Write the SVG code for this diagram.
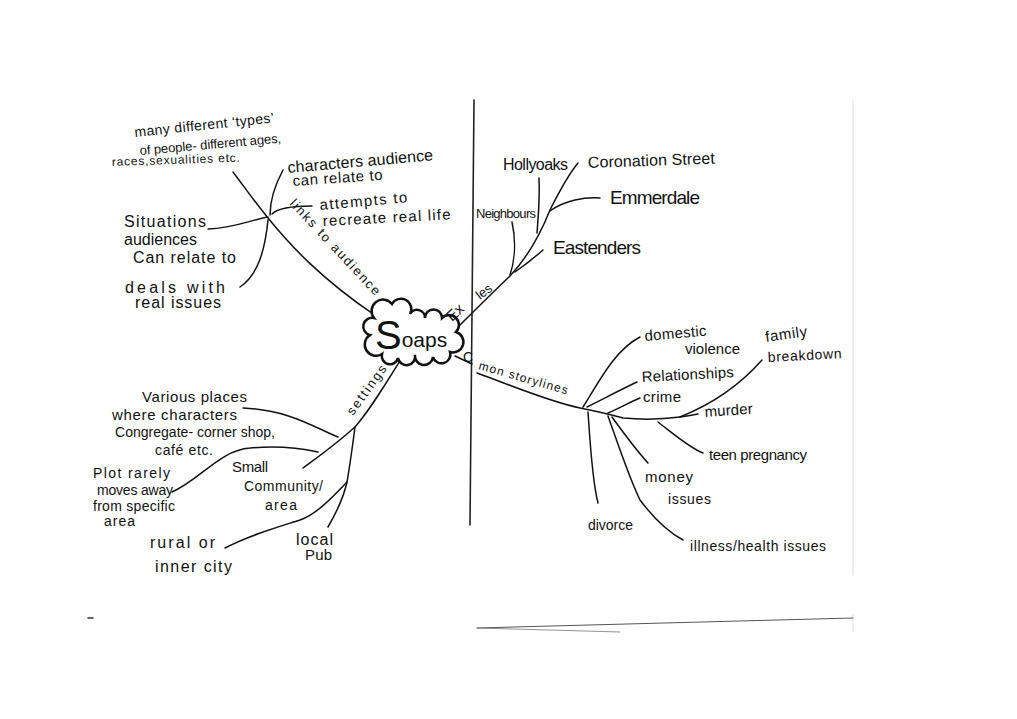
<svg xmlns="http://www.w3.org/2000/svg" width="1017" height="719" viewBox="0 0 1017 719">
<style>
text{font-family:"Liberation Sans","DejaVu Sans",sans-serif;fill:#111;font-size:15px}
.s13{font-size:13px}.s14{font-size:14px}.s16{font-size:16px}.s19{font-size:19px}.s12{font-size:12px}
.c{fill:none;stroke:#111;stroke-width:1.5;stroke-linecap:round}
.page{fill:none;stroke-linecap:round}
</style>
<rect width="1017" height="719" fill="#fff"/>
<g id="page">
<path class="page" d="M474,100 L470,525" stroke="#222" stroke-width="1.6"/>
<path class="page" d="M853,100 L853,575" stroke="#ddd" stroke-width="1"/>
<path class="page" d="M853,615 L853,632" stroke="#ddd" stroke-width="1"/>
<path class="page" d="M477,628 L853,618" stroke="#555" stroke-width="1"/>
<path class="page" d="M477,628 L620,632" stroke="#777" stroke-width="0.8"/>
<path class="page" d="M88,618 L93,618" stroke="#333" stroke-width="1.5"/>
</g>
<g id="connectors">
<path class="c" d="M233,172 C248,192 258,206 268,218 C290,245 320,278 376,316"/>
<path class="c" d="M283,170 C275,185 270,200 270,215"/>
<path class="c" d="M312,206 C295,206 278,208 272,214"/>
<path class="c" d="M208,229 C235,228 250,220 268,217"/>
<path class="c" d="M240,287 C258,275 265,250 268,220"/>
<path class="c" d="M403,356 C385,385 370,410 355,427 C335,445 318,457 303,468"/>
<path class="c" d="M355,427 C352,450 350,465 347,482 C343,500 335,515 328,527"/>
<path class="c" d="M347,482 C330,500 315,515 300,520 C275,528 250,535 225,548"/>
<path class="c" d="M243,408 C290,410 315,428 338,437"/>
<path class="c" d="M172,492 C200,480 220,450 250,448 C280,445 300,448 318,452"/>
<path class="c" d="M452,333 C465,320 490,295 510,276 C525,260 540,235 550,210 C560,190 568,175 578,163"/>
<path class="c" d="M539,178 C540,200 538,220 537,233"/>
<path class="c" d="M512,222 C516,240 515,260 510,275"/>
<path class="c" d="M550,211 C565,200 585,197 600,198"/>
<path class="c" d="M515,272 C525,265 535,257 543,250"/>
<path class="c" d="M455,356 L472,364"/>
<path class="c" d="M477,373 C510,385 550,402 580,408 C595,411 605,413 623,418 C645,420 665,419 680,417 C688,416 693,415 698,414"/>
<path class="c" d="M583,407 C600,380 615,350 640,337"/>
<path class="c" d="M587,407 C605,398 620,390 637,382"/>
<path class="c" d="M608,413 C620,408 630,402 640,398"/>
<path class="c" d="M680,417 C710,405 740,385 762,360"/>
<path class="c" d="M658,422 C675,435 690,448 703,453"/>
<path class="c" d="M588,412 C590,440 592,480 598,503"/>
<path class="c" d="M612,417 C625,435 638,452 648,463"/>
<path class="c" d="M608,416 C620,450 630,480 640,500 C655,520 668,532 683,540"/>
</g>
<g id="soaps">
<path d="M370,335 A8,8 0 0,1 374,318 A10,10 0 0,1 392,304 A9,9 0 0,1 410,314 A8,8 0 0,1 425,318 A8,8 0 0,1 442,318 A8,8 0 0,1 456,332 A8,8 0 0,1 450,352 A8,8 0 0,1 433,357 A8,8 0 0,1 415,355 A8,8 0 0,1 398,358 A8,8 0 0,1 382,354 A8,8 0 0,1 370,335 Z" fill="#fff" stroke="#111" stroke-width="2.5"/>
<text x="375" y="349" style="font-size:40px">S<tspan style="font-size:21px" dy="-2">oaps</tspan></text>
</g>
<g id="links-to-audience">
<text class="s13" transform="translate(289,204) rotate(47)" textLength="126" lengthAdjust="spacing">links to audience</text>
</g>
<g id="many-types">
<text class="s14" transform="translate(135,137) rotate(-6)" textLength="140" lengthAdjust="spacing">many different ‘types’</text>
<text class="s13" transform="translate(140,155) rotate(-5)" textLength="142" lengthAdjust="spacing">of people- different ages,</text>
<text class="s12" transform="translate(112,166) rotate(-2)" textLength="128" lengthAdjust="spacing">races,sexualities etc.</text>
</g>
<g id="characters">
<text class="s16" transform="translate(288,173) rotate(-5)" textLength="146" lengthAdjust="spacing">characters audience</text>
<text transform="translate(293,186) rotate(-4)" textLength="90" lengthAdjust="spacing">can relate to</text>
</g>
<g id="attempts">
<text transform="translate(320,210) rotate(-5)" textLength="88" lengthAdjust="spacing">attempts to</text>
<text transform="translate(323,226) rotate(-3)" textLength="128" lengthAdjust="spacing">recreate real life</text>
</g>
<g id="situations">
<text class="s16" x="124" y="227" textLength="82" lengthAdjust="spacing">Situations</text>
<text class="s16" x="124" y="245" textLength="73" lengthAdjust="spacing">audiences</text>
<text class="s16" x="133" y="263" textLength="103" lengthAdjust="spacing">Can relate to</text>
</g>
<g id="deals">
<text class="s16" x="125" y="293" textLength="100" lengthAdjust="spacing">deals with</text>
<text class="s16" x="135" y="308" textLength="86" lengthAdjust="spacing">real issues</text>
</g>
<g id="settings">
<text class="s13" transform="translate(353,416) rotate(-54)" textLength="58" lengthAdjust="spacing">settings</text>
</g>
<g id="various-places">
<text x="142" y="402" textLength="105" lengthAdjust="spacing">Various places</text>
<text x="112" y="420" textLength="125" lengthAdjust="spacing">where characters</text>
<text class="s14" x="115" y="437" textLength="160" lengthAdjust="spacing">Congregate- corner shop,</text>
<text class="s14" x="155" y="455" textLength="58" lengthAdjust="spacing">café etc.</text>
</g>
<g id="plot">
<text class="s14" x="93" y="478" textLength="77" lengthAdjust="spacing">Plot rarely</text>
<text class="s14" x="97" y="495" textLength="76" lengthAdjust="spacing">moves away</text>
<text class="s14" x="93" y="511" textLength="82" lengthAdjust="spacing">from specific</text>
<text class="s14" x="104" y="526" textLength="31" lengthAdjust="spacing">area</text>
</g>
<g id="small-community">
<text x="232" y="472" textLength="36" lengthAdjust="spacing">Small</text>
<text class="s14" x="244" y="491" textLength="79" lengthAdjust="spacing">Community/</text>
<text class="s14" x="265" y="510" textLength="32" lengthAdjust="spacing">area</text>
</g>
<g id="rural">
<text class="s16" x="150" y="548" textLength="65" lengthAdjust="spacing">rural or</text>
<text class="s16" x="155" y="572" textLength="77" lengthAdjust="spacing">inner city</text>
</g>
<g id="local-pub">
<text class="s16" x="296" y="545" textLength="37" lengthAdjust="spacing">local</text>
<text x="305" y="560" textLength="27" lengthAdjust="spacing">Pub</text>
</g>
<g id="examples">
<text transform="translate(452,322) rotate(-42)">Ex</text>
<text class="s13" transform="translate(480,300) rotate(-37)">les</text>
</g>
<g id="hollyoaks"><text class="s16" x="503" y="170" textLength="65" lengthAdjust="spacing">Hollyoaks</text></g>
<g id="coronation-street"><text class="s16" transform="translate(588,168) rotate(-2)" textLength="127" lengthAdjust="spacing">Coronation Street</text></g>
<g id="emmerdale"><text class="s19" x="610" y="204" textLength="90" lengthAdjust="spacing">Emmerdale</text></g>
<g id="neighbours"><text class="s13" x="476" y="218" textLength="60" lengthAdjust="spacing">Neighbours</text></g>
<g id="eastenders"><text class="s19" x="553" y="254" textLength="88" lengthAdjust="spacing">Eastenders</text></g>
<g id="common-storylines">
<text class="s14" x="463" y="362">C</text>
<text class="s12" transform="translate(478,369) rotate(16)" textLength="92" lengthAdjust="spacing">mon storylines</text>
</g>
<g id="domestic-violence">
<text transform="translate(645,341) rotate(-5)" textLength="62" lengthAdjust="spacing">domestic</text>
<text x="685" y="354" textLength="55" lengthAdjust="spacing">violence</text>
</g>
<g id="family-breakdown">
<text transform="translate(766,342) rotate(-8)" textLength="42" lengthAdjust="spacing">family</text>
<text class="s14" transform="translate(768,362) rotate(-3)" textLength="74" lengthAdjust="spacing">breakdown</text>
</g>
<g id="relationships"><text transform="translate(642,382) rotate(-3)" textLength="92" lengthAdjust="spacing">Relationships</text></g>
<g id="crime"><text x="643" y="402" textLength="38" lengthAdjust="spacing">crime</text></g>
<g id="murder"><text transform="translate(705,417) rotate(-4)" textLength="48" lengthAdjust="spacing">murder</text></g>
<g id="teen-pregnancy"><text x="709" y="460" textLength="98" lengthAdjust="spacing">teen pregnancy</text></g>
<g id="money-issues">
<text x="645" y="482" textLength="48" lengthAdjust="spacing">money</text>
<text class="s14" x="668" y="504" textLength="43" lengthAdjust="spacing">issues</text>
</g>
<g id="divorce"><text class="s14" x="588" y="530" textLength="45" lengthAdjust="spacing">divorce</text></g>
<g id="illness"><text class="s14" x="690" y="551" textLength="136" lengthAdjust="spacing">illness/health issues</text></g>
</svg>
